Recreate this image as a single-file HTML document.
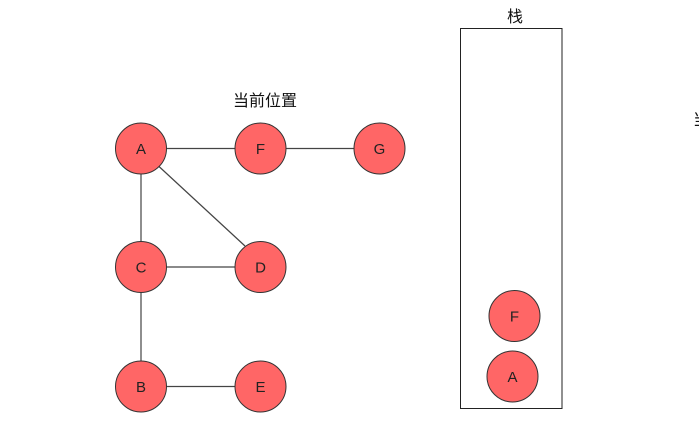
<!DOCTYPE html>
<html><head><meta charset="utf-8"><style>
html,body{margin:0;padding:0;background:#fff;width:699px;height:429px;overflow:hidden}
svg{display:block}
</style></head><body>
<svg width="699" height="429" viewBox="0 0 699 429" xmlns="http://www.w3.org/2000/svg">
<g stroke="#444" stroke-width="1.2" fill="none">
<line x1="166.5" y1="148.5" x2="235" y2="148.5"/>
<line x1="286" y1="148.5" x2="354" y2="148.5"/>
<line x1="141" y1="174" x2="141" y2="242"/>
<line x1="159" y1="166.5" x2="245" y2="246"/>
<line x1="166.5" y1="267" x2="235" y2="267"/>
<line x1="141" y1="292.5" x2="141" y2="361"/>
<line x1="166.5" y1="386.5" x2="235" y2="386.5"/>
</g>
<rect x="460.5" y="28.5" width="101.5" height="380" fill="none" stroke="#222" stroke-width="1"/>
<g fill="#FF6666" stroke="#333" stroke-width="1">
<circle cx="141" cy="148.5" r="25.5"/>
<circle cx="260.5" cy="148.5" r="25.5"/>
<circle cx="379.5" cy="148.5" r="25.5"/>
<circle cx="141" cy="267" r="25.5"/>
<circle cx="260.5" cy="267" r="25.5"/>
<circle cx="141" cy="386.5" r="25.5"/>
<circle cx="260.5" cy="386.5" r="25.5"/>
<circle cx="514.5" cy="316" r="25.5"/>
<circle cx="512.5" cy="376.5" r="25.5"/>
</g>
<g font-family="Liberation Sans, sans-serif" font-size="15" fill="#222" text-anchor="middle">
<text x="141" y="154">A</text>
<text x="260.5" y="154">F</text>
<text x="379.5" y="154">G</text>
<text x="141" y="272.5">C</text>
<text x="260.5" y="272.5">D</text>
<text x="141" y="392">B</text>
<text x="260.5" y="392">E</text>
<text x="514.5" y="321.5">F</text>
<text x="512.5" y="382">A</text>
</g>
<g font-family="Liberation Sans, Noto Sans CJK SC, sans-serif" font-size="16" fill="#111">
<text x="265" y="106" text-anchor="middle">当前位置</text>
<text x="515" y="22" text-anchor="middle">栈</text>
<text x="693" y="125">当前位置</text>
</g>
</svg>
</body></html>
